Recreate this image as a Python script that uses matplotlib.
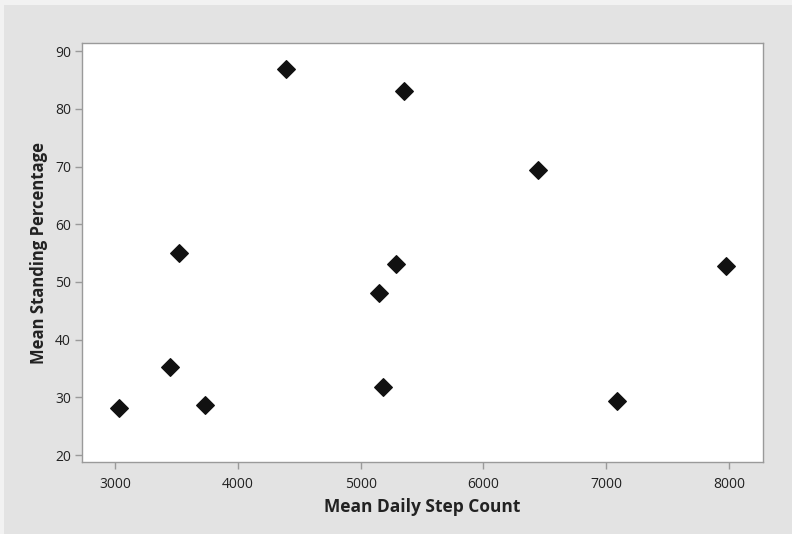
import matplotlib.pyplot as plt
from matplotlib.patches import Rectangle

# values
step_count = [3033, 3448, 3521, 3733, 4393, 5150, 5182, 5288, 5353, 6445, 7088, 7976]
standing_pct = [28.1, 35.3, 55.0, 28.7, 86.9, 48.1, 31.8, 53.1, 83.1, 69.4, 29.4, 52.8]
x_ticks = [3000, 4000, 5000, 6000, 7000, 8000]
y_ticks = [20, 30, 40, 50, 60, 70, 80, 90]

FONT = "Open Sans"
AXIS_GREY = "#9a9a9a"
TEXT_COL = "#222222"

fig = plt.figure(figsize=(7.92, 5.34), dpi=100)
fig.patch.set_facecolor("#f2f2f2")
# grey panel behind the chart, offset a little from top/left like the original
fig.patches.append(Rectangle((4 / 792, 0), 1, 1 - 5 / 534, transform=fig.transFigure,
                             facecolor="#e3e3e3", edgecolor="none", zorder=-5))

ax = fig.add_axes([82 / 792, 1 - 462 / 534, (763 - 82) / 792, (462 - 43) / 534])
ax.set_zorder(2)
ax.set_facecolor("white")
ax.scatter(step_count, standing_pct, marker="D", s=80, color="#111111", zorder=3)

ax.set_xlim(2731, 8277)
ax.set_ylim(18.8, 91.4)
ax.set_xticks(x_ticks)
ax.set_yticks(y_ticks)

for sp in ax.spines.values():
    sp.set_color(AXIS_GREY)
    sp.set_linewidth(1.0)
ax.tick_params(axis="both", direction="out", length=5, width=1, color=AXIS_GREY,
               labelsize=10, labelcolor=TEXT_COL, pad=3)
for lbl in ax.get_xticklabels() + ax.get_yticklabels():
    lbl.set_fontfamily(FONT)
ax.tick_params(axis="x", pad=6)

ax.set_xlabel("Mean Daily Step Count", fontfamily=FONT, fontsize=12.5, fontweight="bold",
              color=TEXT_COL, labelpad=4)
ax.set_ylabel("Mean Standing Percentage", fontfamily=FONT, fontsize=12, fontweight="bold",
              color=TEXT_COL, labelpad=5)

plt.savefig("out.png", dpi=100)
